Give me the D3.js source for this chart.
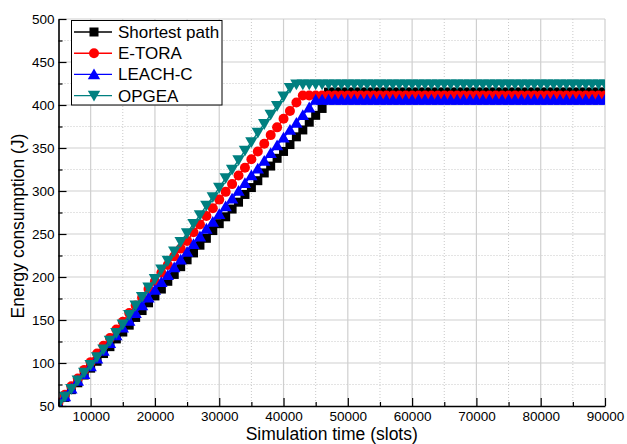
<!DOCTYPE html>
<html><head><meta charset="utf-8">
<script src="https://cdn.jsdelivr.net/npm/d3@7/dist/d3.min.js"></script>
<style>body{margin:0;background:#fff}svg{display:block;font-family:Arial,"Liberation Sans",sans-serif}</style>
</head><body>
<svg id="c" width="627" height="444"></svg>
<script>
const slots = [5000,6000,7000,8000,9000,10000,11000,12000,13000,14000,
15000,16000,17000,18000,19000,20000,21000,22000,23000,24000,
25000,26000,27000,28000,29000,30000,31000,32000,33000,34000,
35000,36000,37000,38000,39000,40000,41000,42000,43000,44000,
45000,46000,47000,48000,49000,50000,51000,52000,53000,54000,
55000,56000,57000,58000,59000,60000,61000,62000,63000,64000,
65000,66000,67000,68000,69000,70000,71000,72000,73000,74000,
75000,76000,77000,78000,79000,80000,81000,82000,83000,84000,
85000,86000,87000,88000,89000,90000];

const shortestPath = [52,60,69,77,86,94,102,111,119,128,
136,144,153,161,170,178,186,195,203,212,
220,228,237,245,254,262,270,279,287,296,
304,312,321,329,338,346,354,363,371,380,
388,396,415,415,415,415,415,415,415,415,
415,415,415,415,415,415,415,415,415,415,
415,415,415,415,415,415,415,415,415,415,
415,415,415,415,415,415,415,415,415,415,
415,415,415,415,415,415];

const eTora = [54,63,73,82,92,101,111,120,129,139,
148,158,167,176,186,195,205,214,224,233,
242,252,261,271,280,290,299,308,318,327,
337,346,355,365,374,384,393,403,411,411,
411,411,411,411,411,411,411,411,411,411,
411,411,411,411,411,411,411,411,411,411,
411,411,411,411,411,411,411,411,411,411,
411,411,411,411,411,411,411,411,411,411,
411,411,411,411,411,411];

const leachC = [52,61,70,79,87,96,105,114,123,132,
141,149,158,167,176,185,194,202,211,220,
229,238,247,256,264,273,282,291,300,309,
318,326,335,344,353,362,371,379,388,397,
406,406,406,406,406,406,406,406,406,406,
406,406,406,406,406,406,406,406,406,406,
406,406,406,406,406,406,406,406,406,406,
406,406,406,406,406,406,406,406,406,406,
406,406,406,406,406,406];

const opgea = [52,61,70,80,89,98,107,116,126,135,
145,156,167,177,188,198,209,219,230,241,
251,262,272,283,293,304,315,325,336,347,
357,368,378,389,399,410,420,424,424,424,
424,424,424,424,424,424,424,424,424,424,
424,424,424,424,424,424,424,424,424,424,
424,424,424,424,424,424,424,424,424,424,
424,424,424,424,424,424,424,424,424,424,
424,424,424,424,424,424];

const seriesNames = ["Shortest path","E-TORA","LEACH-C","OPGEA"];
const seriesColors = ["#000000","#ff0000","#0000ff","#008080"];
const seriesShapes = ["square","circle","up","down"];
const xTicks = [10000,20000,30000,40000,50000,60000,70000,80000,90000];
const xMinorTicks = [5000,15000,25000,35000,45000,55000,65000,75000,85000];
const yTicks = [50,100,150,200,250,300,350,400,450,500];
const yMinorTicks = [75,125,175,225,275,325,375,425,475];
const xTitle = "Simulation time (slots)";
const yTitle = "Energy consumption (J)";

const allSeries = [shortestPath, eTora, leachC, opgea];

const L=58.5, R=605, T=19, B=406;
const x = d3.scaleLinear().domain([5000,90000]).range([L,R]);
const y = d3.scaleLinear().domain([50,500]).range([B,T]);
const svg = d3.select("#c");

svg.append("defs").append("clipPath").attr("id","clip")
  .append("rect").attr("x",L).attr("y",T).attr("width",R-L).attr("height",B-T);

// grid
const g = svg.append("g");
g.selectAll(".vmaj").data(xTicks).join("line")
  .attr("x1",d=>x(d)).attr("x2",d=>x(d)).attr("y1",T).attr("y2",B)
  .attr("stroke","#cfcfcf").attr("stroke-width",1.2);
g.selectAll(".vmin").data(xMinorTicks.filter(d=>d>5000)).join("line")
  .attr("x1",d=>x(d)).attr("x2",d=>x(d)).attr("y1",T).attr("y2",B)
  .attr("stroke","#c8c8c8").attr("stroke-width",1).attr("stroke-dasharray","1,2");
g.selectAll(".hmaj").data(yTicks.filter(d=>d>50)).join("line")
  .attr("y1",d=>y(d)).attr("y2",d=>y(d)).attr("x1",L).attr("x2",R)
  .attr("stroke","#cfcfcf").attr("stroke-width",1.2);
g.selectAll(".hmin").data(yMinorTicks).join("line")
  .attr("y1",d=>y(d)).attr("y2",d=>y(d)).attr("x1",L).attr("x2",R)
  .attr("stroke","#c8c8c8").attr("stroke-width",1).attr("stroke-dasharray","1,2");

function sym(sel, shape, color){
  if(shape==="square"){
    sel.append("rect").attr("x",-4.5).attr("y",-4.5).attr("width",9).attr("height",9).attr("fill",color);
  } else if(shape==="circle"){
    sel.append("circle").attr("r",5).attr("fill",color);
  } else if(shape==="up"){
    sel.append("path").attr("d","M0,-6L6.2,4.8L-6.2,4.8Z").attr("fill",color);
  } else {
    sel.append("path").attr("d","M0,6L6.2,-4.8L-6.2,-4.8Z").attr("fill",color);
  }
}

const plot = svg.append("g").attr("clip-path","url(#clip)");
const line = d3.line().x((d,i)=>x(slots[i])).y(d=>y(d));
allSeries.forEach((vals,si)=>{
  const sg = plot.append("g");
  sg.append("path").attr("d",line(vals)).attr("fill","none")
    .attr("stroke",seriesColors[si]).attr("stroke-width",1.4);
  sg.selectAll("g.m").data(vals).join("g").attr("class","m")
    .attr("transform",(d,i)=>`translate(${x(slots[i])},${y(d)})`)
    .each(function(){ sym(d3.select(this), seriesShapes[si], seriesColors[si]); });
});

// axes
svg.append("g").attr("transform",`translate(0,${B})`)
  .call(d3.axisBottom(x).tickValues(xTicks).tickSizeInner(-8).tickSizeOuter(0).tickPadding(5).tickFormat(d3.format("d")));
svg.append("g").attr("transform",`translate(0,${B})`)
  .call(d3.axisBottom(x).tickValues(xMinorTicks).tickSizeInner(-4).tickSizeOuter(0).tickFormat(""))
  .select(".domain").remove();
svg.append("g").attr("transform",`translate(${L},0)`)
  .call(d3.axisLeft(y).tickValues(yTicks).tickSizeInner(-8).tickSizeOuter(0).tickPadding(4).tickFormat(d3.format("d")));
svg.append("g").attr("transform",`translate(${L},0)`)
  .call(d3.axisLeft(y).tickValues(yMinorTicks).tickSizeInner(-4).tickSizeOuter(0).tickFormat(""))
  .select(".domain").remove();
svg.selectAll(".domain").attr("stroke","#000").attr("stroke-width",1.6);
svg.selectAll(".tick line").attr("stroke","#000").attr("stroke-width",1.2);
svg.selectAll(".tick text").attr("font-size",13.5).attr("fill","#000")
  .attr("font-family","Arial, 'Liberation Sans', sans-serif");

// titles
svg.append("text").attr("x",(L+R)/2).attr("y",440).attr("text-anchor","middle")
  .attr("font-size",17.5).text(xTitle);
svg.append("text").attr("transform","translate(24,226) rotate(-90)").attr("text-anchor","middle")
  .attr("font-size",17.5).text(yTitle);

// legend
const lg = svg.append("g");
lg.append("rect").attr("x",71.5).attr("y",20.5).attr("width",150.5).attr("height",84.5)
  .attr("fill","#fff").attr("stroke","#000").attr("stroke-width",1);
seriesNames.forEach((nm,i)=>{
  const yy = 32 + i*21.2;
  lg.append("line").attr("x1",74).attr("x2",112).attr("y1",yy).attr("y2",yy)
    .attr("stroke",seriesColors[i]).attr("stroke-width",1.4);
  const mg = lg.append("g").attr("transform",`translate(94,${yy})`);
  sym(mg, seriesShapes[i], seriesColors[i]);
  lg.append("text").attr("x",118).attr("y",yy+6).attr("font-size",17).text(nm);
});
</script>
</body></html>
